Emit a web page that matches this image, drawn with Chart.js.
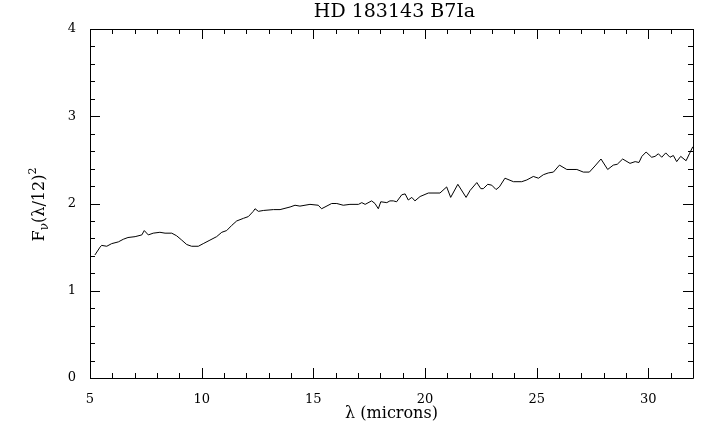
<!DOCTYPE html>
<html lang="en">
<head>
    <meta charset="UTF-8">
    <title>HD 183143 B7Ia</title>
    <style>
        html, body { margin: 0; padding: 0; background: #fff; }
        #wrap { width: 720px; height: 439px; }
    </style>
</head>
<body>
    <div id="wrap"><canvas id="spec" width="720" height="439"></canvas></div>
    <script src="https://cdn.jsdelivr.net/npm/chart.js"></script>
    <script>
        // spectrum
        const wavelength = [5.22, 5.45, 5.52, 5.75, 5.97, 6.27, 6.49, 6.70, 7.02, 7.32, 7.43, 7.61, 7.83, 8.13, 8.36,
            8.66, 8.88, 9.11, 9.33, 9.55, 9.85, 10.07, 10.37, 10.67, 10.90, 11.12, 11.35, 11.57, 11.87, 12.09,
            12.31, 12.39, 12.54, 12.76, 13.21, 13.51, 13.96, 14.18, 14.40, 14.85, 15.22, 15.37, 15.82, 16.05, 16.34,
            16.64, 17.02, 17.17, 17.32, 17.61, 17.76, 17.91, 18.02, 18.29, 18.43, 18.58, 18.73, 18.96, 19.11, 19.25,
            19.41, 19.55, 19.78, 20.15, 20.67, 20.97, 21.15, 21.47, 21.84, 22.02, 22.32, 22.50, 22.61, 22.81, 22.99,
            23.18, 23.33, 23.58, 23.96, 24.33, 24.56, 24.85, 25.08, 25.30, 25.52, 25.75, 26.02, 26.35, 26.80, 27.09,
            27.36, 27.61, 27.88, 28.18, 28.43, 28.61, 28.85, 29.18, 29.41, 29.58, 29.71, 29.90, 30.15, 30.30, 30.45,
            30.60, 30.78, 30.97, 31.12, 31.27, 31.45, 31.69, 31.84, 31.99];
        const flux = [1.41, 1.50, 1.52, 1.51, 1.54, 1.56, 1.59, 1.61, 1.62, 1.64, 1.69, 1.64, 1.66, 1.67, 1.66,
            1.66, 1.63, 1.58, 1.53, 1.51, 1.51, 1.54, 1.58, 1.62, 1.67, 1.69, 1.75, 1.80, 1.83, 1.85,
            1.91, 1.94, 1.91, 1.92, 1.93, 1.93, 1.96, 1.98, 1.97, 1.99, 1.98, 1.94, 2.00, 2.00, 1.98,
            1.99, 1.99, 2.01, 1.99, 2.03, 2.00, 1.94, 2.02, 2.01, 2.03, 2.03, 2.02, 2.10, 2.11, 2.04,
            2.07, 2.03, 2.08, 2.12, 2.12, 2.19, 2.07, 2.22, 2.07, 2.15, 2.24, 2.17, 2.17, 2.22, 2.21,
            2.16, 2.19, 2.29, 2.25, 2.25, 2.27, 2.31, 2.29, 2.33, 2.35, 2.36, 2.44, 2.39, 2.39, 2.36,
            2.36, 2.43, 2.51, 2.39, 2.44, 2.45, 2.51, 2.46, 2.48, 2.47, 2.54, 2.59, 2.53, 2.54, 2.57,
            2.53, 2.58, 2.53, 2.55, 2.48, 2.54, 2.49, 2.57, 2.65];

        const xRange = [5, 32];
        const yRange = [0, 4];
        const xTickLabels = [5, 10, 15, 20, 25, 30];
        const yTickLabels = [0, 1, 2, 3, 4];

        const serif = '"DejaVu Serif", "Liberation Serif", serif';

        // IDL style frame: box with inward ticks on all four sides, plus the labels
        const idlFrame = {
            id: 'idlFrame',
            afterDraw(chart) {
                const ctx = chart.ctx;
                const a = chart.chartArea;
                const xs = chart.scales.x, ys = chart.scales.y;
                ctx.save();
                ctx.strokeStyle = '#000';
                ctx.lineWidth = 1;
                ctx.beginPath();
                ctx.rect(Math.round(a.left) + 0.5, Math.round(a.top) + 0.5,
                    Math.round(a.right - a.left), Math.round(a.bottom - a.top));
                for (let v = xRange[0]; v <= xRange[1]; v++) {
                    const px = Math.round(xs.getPixelForValue(v)) + 0.5;
                    const len = v % 5 === 0 ? 10 : 5;
                    ctx.moveTo(px, a.bottom); ctx.lineTo(px, a.bottom - len);
                    ctx.moveTo(px, a.top); ctx.lineTo(px, a.top + len);
                }
                for (let i = 0; i <= 20; i++) {
                    const v = i * 0.2;
                    const py = Math.round(ys.getPixelForValue(v)) + 0.5;
                    const len = i % 5 === 0 ? 10 : 5;
                    ctx.moveTo(a.left, py); ctx.lineTo(a.left + len, py);
                    ctx.moveTo(a.right, py); ctx.lineTo(a.right - len, py);
                }
                ctx.stroke();

                // title
                ctx.fillStyle = '#000';
                ctx.textAlign = 'center';
                ctx.textBaseline = 'middle';
                ctx.font = '19px ' + serif;
                ctx.fillText('HD 183143 B7Ia', (a.left + a.right) / 2 + 3, 12);

                // y axis title F_nu (lambda/12)^2
                const parts = [
                    { t: 'F', size: 16, dy: 0 },
                    { t: 'ν', size: 12, dy: 5 },
                    { t: '(λ/12)', size: 16, dy: 0 },
                    { t: '2', size: 11, dy: -7 }
                ];
                let total = 0;
                parts.forEach(p => { ctx.font = p.size + 'px ' + serif; p.w = ctx.measureText(p.t).width; total += p.w; });
                ctx.translate(40, (a.top + a.bottom) / 2 + 1);
                ctx.rotate(-Math.PI / 2);
                ctx.textAlign = 'left';
                let cx = -total / 2;
                parts.forEach(p => {
                    ctx.font = p.size + 'px ' + serif;
                    ctx.fillText(p.t, cx, p.dy);
                    cx += p.w;
                });
                ctx.restore();
            }
        };

        const chart = new Chart(document.getElementById('spec').getContext('2d'), {
            type: 'line',
            data: {
                datasets: [{
                    data: wavelength.map((w, i) => ({ x: w, y: flux[i] })),
                    borderColor: '#000',
                    borderWidth: 1,
                    pointRadius: 0,
                    tension: 0,
                    fill: false
                }]
            },
            options: {
                responsive: false,
                animation: false,
                layout: { padding: { top: 29, right: 27, left: 0, bottom: 0 } },
                plugins: { legend: { display: false }, tooltip: { enabled: false }, title: { display: false } },
                scales: {
                    x: {
                        type: 'linear',
                        min: xRange[0],
                        max: xRange[1],
                        grid: { display: false },
                        border: { display: false },
                        afterBuildTicks: s => { s.ticks = xTickLabels.map(v => ({ value: v })); },
                        afterFit: s => { s.height = 61; },
                        ticks: { color: '#000', font: { family: serif, size: 13 }, padding: 6, maxRotation: 0 },
                        title: { display: true, text: 'λ (microns)', color: '#000', font: { family: serif, size: 16 }, padding: { top: 0, bottom: 16 } }
                    },
                    y: {
                        min: yRange[0],
                        max: yRange[1],
                        grid: { display: false },
                        border: { display: false },
                        afterBuildTicks: s => { s.ticks = yTickLabels.map(v => ({ value: v })); },
                        afterFit: s => { s.width = 90; },
                        ticks: { color: '#000', font: { family: serif, size: 13 }, padding: 6 }
                    }
                }
            },
            plugins: [idlFrame]
        });
    </script>
</body>
</html>
